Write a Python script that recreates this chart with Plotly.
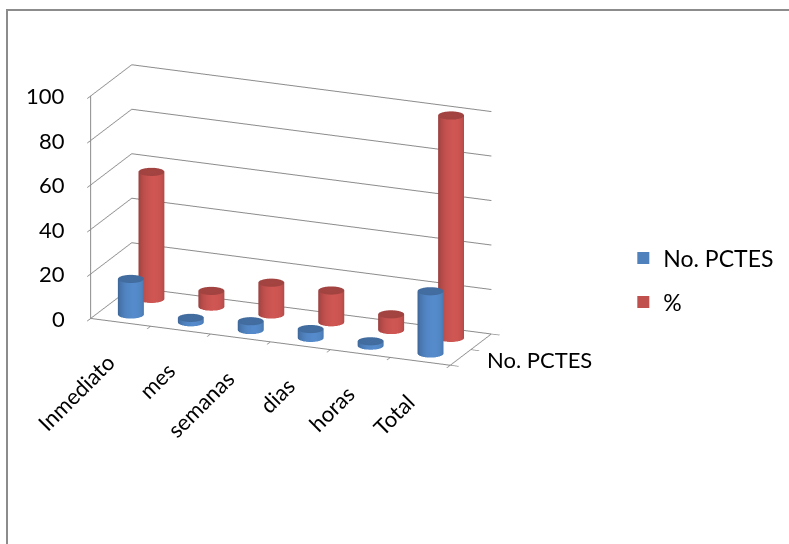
import numpy as np
import plotly.graph_objects as go

# ---- data -------------------------------------------------------------
categories = ["Inmediato", "mes", "semanas", "dias", "horas", "Total"]
series_names = ["No. PCTES", "%"]
pacientes = [16, 2, 4, 4, 2, 28]
porcentaje = [57.1, 7.1, 14.3, 14.3, 7.1, 100]
z_ticks = [0, 20, 40, 60, 80, 100]

BLUE = (79, 129, 189)
RED = (192, 80, 77)
GRID = "#8c8c8c"
FONT = "Lato"

# scene proportions (used to keep the cylinders round on screen)
X_RANGE = [-0.5, len(categories) - 0.5]
Y_RANGE = [-0.5, 1.5]
Z_RANGE = [0, 100]
ASPECT = dict(x=1.81, y=0.50, z=1.09)
VIEW_ANGLE = np.radians(22)


def shade(rgb, f):
    return "rgb(%d,%d,%d)" % tuple(int(max(0, min(255, c * f))) for c in rgb)


def cylinder(cx, cy, h, rgb, r=0.2, n=48):
    """Mesh3d cylinder standing on z=0 with a simple side gradient."""
    rx = r
    ry = r * (ASPECT["x"] / (X_RANGE[1] - X_RANGE[0])) / (ASPECT["y"] / (Y_RANGE[1] - Y_RANGE[0]))
    th = np.linspace(0, 2 * np.pi, n, endpoint=False)
    lx, ly = np.sin(VIEW_ANGLE + 0.25), -np.cos(VIEW_ANGLE + 0.25)
    xs, ys, zs, cols = [], [], [], []
    for t in th:
        d = max(0.0, np.cos(t) * lx + np.sin(t) * ly)
        f = 0.80 + 0.28 * d
        for z in (0.0, h):
            xs.append(cx + rx * np.cos(t)); ys.append(cy + ry * np.sin(t)); zs.append(z)
            cols.append(shade(rgb, f))
    I, J, K = [], [], []
    for k in range(n):
        b0, t0 = 2 * k, 2 * k + 1
        b1, t1 = 2 * ((k + 1) % n), 2 * ((k + 1) % n) + 1
        I += [b0, t0]; J += [b1, b1]; K += [t0, t1]
    # top cap
    c0 = len(xs)
    xs.append(cx); ys.append(cy); zs.append(h); cols.append(shade(rgb, 0.86))
    for t in th:
        xs.append(cx + rx * np.cos(t)); ys.append(cy + ry * np.sin(t)); zs.append(h)
        cols.append(shade(rgb, 0.84))
    for k in range(n):
        I.append(c0); J.append(c0 + 1 + k); K.append(c0 + 1 + (k + 1) % n)
    return go.Mesh3d(x=xs, y=ys, z=zs, i=I, j=J, k=K, vertexcolor=cols,
                     flatshading=False, hoverinfo="skip", showscale=False,
                     lighting=dict(ambient=1, diffuse=0, specular=0, roughness=1, fresnel=0))


fig = go.Figure()
for depth, (vals, rgb) in enumerate([(pacientes, BLUE), (porcentaje, RED)]):
    for xi, v in enumerate(vals):
        fig.add_trace(cylinder(xi, depth, v, rgb))

# legend entries
for name, rgb in zip(series_names, [BLUE, RED]):
    fig.add_trace(go.Scatter(x=[None], y=[None], mode="markers", name=name,
                             legendgroup=name,
                             marker=dict(symbol="square", size=16, color="rgb(%d,%d,%d)" % rgb)))

axis_common = dict(showbackground=False, showspikes=False, zeroline=False,
                   showline=True, linecolor=GRID, linewidth=2, showticklabels=False,
                   ticks="outside", tickcolor=GRID, tickwidth=2, ticklen=9,
                   title=dict(text=""))

label_font = dict(family=FONT, size=22, color="#000")

# axis labels placed at their 3D positions
scene_ann = []
for xi, c in enumerate(categories):
    scene_ann.append(dict(x=xi, y=Y_RANGE[0], z=0, text=c, showarrow=False, textangle=-45,
                          xanchor="right", yanchor="top", xshift=2, yshift=-24,
                          font=label_font))
for v in z_ticks:
    scene_ann.append(dict(x=X_RANGE[0], y=Y_RANGE[0], z=v, text=str(v), showarrow=False,
                          xanchor="right", yanchor="middle", xshift=-24, font=label_font))
scene_ann.append(dict(x=X_RANGE[1], y=0, z=0, text=series_names[0], showarrow=False,
                      xanchor="left", yanchor="middle", xshift=24, yshift=-2, font=label_font))

fig.update_layout(
    width=789, height=544,
    margin=dict(l=0, r=0, t=0, b=0),
    paper_bgcolor="white", plot_bgcolor="rgba(0,0,0,0)",
    xaxis=dict(visible=False), yaxis=dict(visible=False),
    showlegend=True,
    legend=dict(x=0.79, y=0.565, xanchor="left", yanchor="top",
                font=dict(family=FONT, size=23, color="#000"),
                tracegroupgap=11, itemsizing="constant", bgcolor="rgba(0,0,0,0)"),
    scene=dict(
        domain=dict(x=[0.0, 0.738], y=[0.21, 1.0]),
        xaxis=dict(axis_common, range=X_RANGE,
                   tickvals=[i - 0.5 for i in range(len(categories) + 1)], showgrid=False),
        yaxis=dict(axis_common, range=Y_RANGE, tickvals=[-0.5, 0.5, 1.5], showgrid=False),
        zaxis=dict(axis_common, range=Z_RANGE, tickvals=z_ticks, showgrid=True,
                   gridcolor=GRID, gridwidth=2),
        aspectmode="manual", aspectratio=ASPECT,
        camera=dict(eye=dict(x=1.2, y=-2.9, z=1.04), center=dict(x=0, y=0, z=0),
                    projection=dict(type="orthographic")),
        annotations=scene_ann,
    ),
    shapes=[dict(type="rect", xref="paper", yref="paper", x0=7 / 789, x1=1.1,
                 y0=-0.1, y1=1 - 10 / 544, line=dict(color="#8c8c8c", width=2))],
)

fig.write_html("out.html")
